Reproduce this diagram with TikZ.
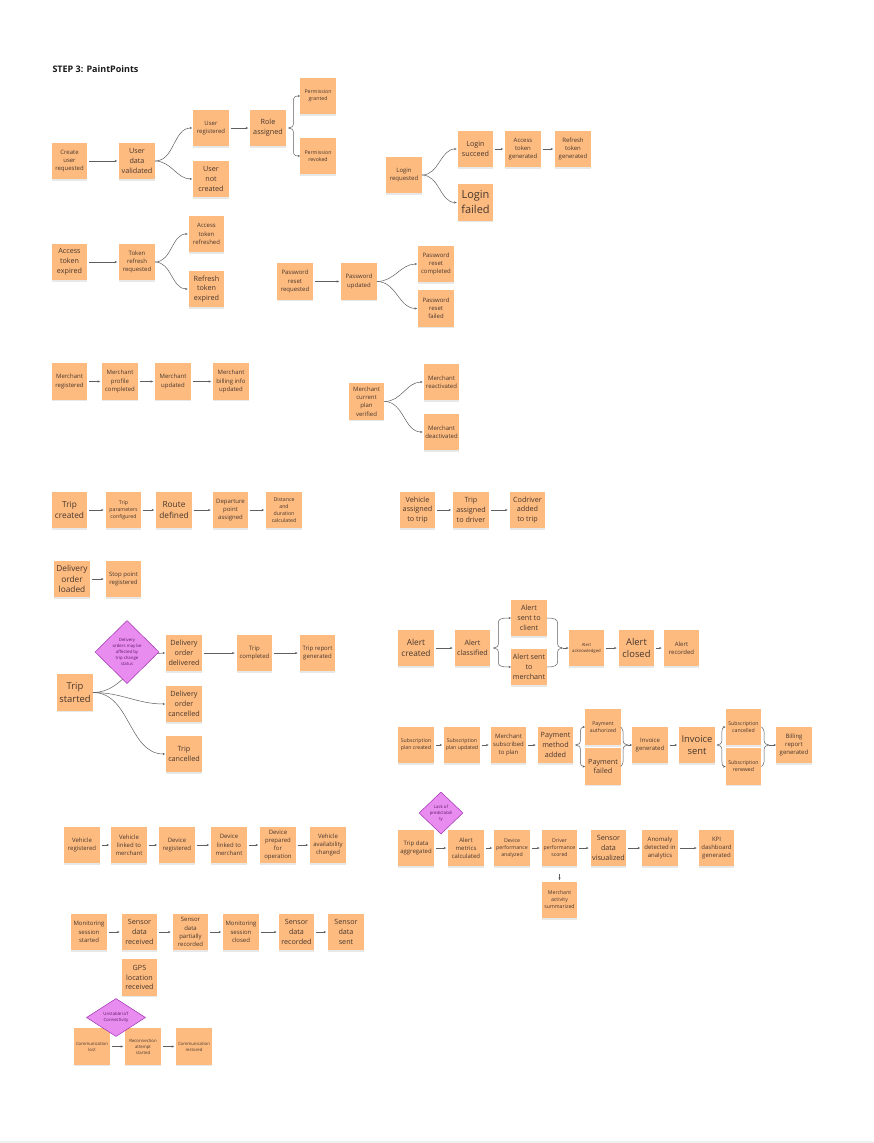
\documentclass[tikz,border=0pt]{standalone}
\usepackage{fontspec}
\setmainfont{Open Sans}
\usetikzlibrary{shapes.geometric,arrows.meta,calc,shadows}
\definecolor{noteor}{RGB}{254,187,128}
\definecolor{notetx}{RGB}{70,55,45}
\definecolor{diafill}{RGB}{233,140,240}
\definecolor{diadraw}{RGB}{160,50,180}
\definecolor{diatx}{RGB}{90,25,100}
\definecolor{lnc}{RGB}{95,95,95}
\tikzset{
 note/.style={fill=noteor, text=notetx, minimum width=35.5pt, minimum height=36.5pt, inner sep=0pt, align=center,
   drop shadow={opacity=0.18, shadow xshift=0pt, shadow yshift=-1.3pt}},
 fA/.style={font=\fontsize{4.3}{6}\selectfont},
 fB/.style={font=\fontsize{5.2}{7}\selectfont},
 fC/.style={font=\fontsize{6}{8.2}\selectfont},
 fD/.style={font=\fontsize{7.2}{9.8}\selectfont},
 fE/.style={font=\fontsize{8.3}{10.8}\selectfont},
 fF/.style={font=\fontsize{9.4}{12.5}\selectfont},
 fG/.style={font=\fontsize{11}{15}\selectfont},
 ln/.style={draw=lnc, line width=0.5pt},
 arr/.style={ln, -{Stealth[length=2.4pt,width=2.2pt]}},
 sarr/.style={arr, shorten <=2pt, shorten >=2pt},
 farr/.style={arr, shorten >=1pt},
 dia/.style={diamond, fill=diafill, draw=diadraw, line width=0.5pt, text=diatx, inner sep=0pt, align=center, fA}
}
\newcommand{\bout}[2]{%
 \draw[arr] let \p1=(#1), \p2=(#2.west), \n1={sign(\y2-\y1)} in
 (\p1) .. controls ({\x1+3pt},{\y1}) and ({\x1+5pt},{\y1+\n1*1.5pt}) .. ({\x1+5pt},{\y1+\n1*5pt})
 -- ({\x1+5pt},{\y2-\n1*5pt}) .. controls ({\x1+5pt},{\y2-\n1*1.5pt}) and ({\x1+6pt},{\y2}) .. (\p2);}
\newcommand{\bin}[2]{%
 \draw[ln] let \p1=(#1.east), \p2=(#2), \n1={sign(\y2-\y1)} in
 (\p1) .. controls ({\x2-8pt},{\y1}) and ({\x2-5pt},{\y1+\n1*1.5pt}) .. ({\x2-5pt},{\y1+\n1*5pt})
 -- ({\x2-5pt},{\y2-\n1*5pt}) .. controls ({\x2-5pt},{\y2-\n1*1.5pt}) and ({\x2-3pt},{\y2}) .. (\p2);}
\begin{document}
\begin{tikzpicture}[x=1pt,y=1pt]
\fill[white] (0,0) rectangle (874,-1143);
\fill[black!6] (0,-1140.5) rectangle (874,-1143);
\path[use as bounding box] (0,0) rectangle (874,-1143);

\node[anchor=west, font=\bfseries\fontsize{9}{11}\selectfont, text=black!90] (title) at (49,-69) {STEP 3: PaintPoints};

% users
\node[note,fC] (cur) at (69.5,-161) {Create\\user\\requested};
\node[note,fD] (udv) at (137,-161) {User\\data\\validated};
\node[note,fC] (ureg) at (211,-128) {User\\registered};
\node[note,fD] (unc) at (211,-179) {User\\not\\created};
\node[note,fD] (role) at (268,-128) {Role\\assigned};
\node[note,fB] (pg) at (318,-96) {Permission\\granted};
\node[note,fB] (pr) at (318,-156) {Permission\\revoked};
\node[note,fD] (ate) at (69.5,-262) {Access\\token\\expired};
\node[note,fC] (trr) at (137,-262) {Token\\refresh\\requested};
\node[note,fC] (atr) at (206.5,-234) {Access\\token\\refreshed};
\node[note,fD] (rte) at (206.5,-289) {Refresh\\token\\expired};
\node[note,fC] (prr) at (295,-281.5) {Password\\reset\\requested};
\node[note,fC] (pu) at (359,-281.5) {Password\\updated};
\node[note,fC] (prc) at (436,-264) {Password\\reset\\completed};
\node[note,fC] (prf) at (436,-308.5) {Password\\reset\\failed};
\node[note,fC] (lr) at (404,-175) {Login\\requested};
\node[note,fD] (ls) at (475.5,-149) {Login\\succeed};
\node[note,fG] (lf) at (475.5,-202.5) {Login\\failed};
\node[note,fC] (atg) at (523,-149) {Access\\token\\generated};
\node[note,fC] (rtg) at (573,-149) {Refresh\\token\\generated};

% merchants
\node[note,fC] (mr) at (69.5,-381.5) {Merchant\\registered};
\node[note,fC] (mpc) at (120,-381.5) {Merchant\\profile\\completed};
\node[note,fC] (mu) at (173,-381.5) {Merchant\\updated};
\node[note,fC] (mbu) at (231,-381.5) {Merchant\\billing info\\updated};
\node[note,fC] (mcpv) at (366.5,-401.5) {Merchant\\current\\plan\\verified};
\node[note,fC] (mra) at (441.5,-382) {Merchant\\reactivated};
\node[note,fC] (mda) at (441.5,-432) {Merchant\\deactivated};

% trips
\node[note,fE] (tc) at (69.5,-510) {Trip\\created};
\node[note,fB] (tpc) at (123.5,-510) {Trip\\parameters\\configured};
\node[note,fE] (rd) at (174,-510) {Route\\defined};
\node[note,fC] (dpa) at (230.5,-510) {Departure\\point\\assigned};
\node[note,fB] (ddc) at (284,-510) {Distance\\and\\duration\\calculated};
\node[note,fD] (vat) at (417.5,-510) {Vehicle\\assigned\\to trip};
\node[note,fD] (tad) at (471,-510) {Trip\\assigned\\to driver};
\node[note,fD] (cat) at (527.5,-510) {Codriver\\added\\to trip};
\node[note,fE] (dol) at (72,-579) {Delivery\\order\\loaded};
\node[note,fC] (spr) at (123.5,-579) {Stop point\\registered};

\node[note,fF] (ts) at (75,-692.5) {Trip\\started};
\node[note,fD] (dod) at (184,-653) {Delivery\\order\\delivered};
\node[note,fC] (tcomp) at (254.5,-653) {Trip\\completed};
\node[note,fC] (trg) at (317.5,-653) {Trip report\\generated};
\node[note,fD] (doc) at (184,-704) {Delivery\\order\\cancelled};
\node[note,fD] (tcan) at (184,-754) {Trip\\cancelled};

% alerts
\node[note,fE] (ac) at (416,-648) {Alert\\created};
\node[note,fD] (acl) at (472.5,-648) {Alert\\classified};
\node[note,fD] (astc) at (529,-618) {Alert\\sent to\\client};
\node[note,fD] (astm) at (529,-667) {Alert sent\\to\\merchant};
\node[note,fA] (aack) at (586.5,-648) {Alert\\acknowledged};
\node[note,fF] (aclo) at (636.5,-648) {Alert\\closed};
\node[note,fC] (arec) at (681.5,-648) {Alert\\recorded};

% subscriptions
\node[note,fB] (spc) at (416,-745) {Subscription\\plan created};
\node[note,fB] (spu) at (462,-745) {Subscription\\plan updated};
\node[note,fC] (msp) at (508.5,-745) {Merchant\\subscribed\\to plan};
\node[note,fD] (pma) at (555.5,-745) {Payment\\method\\added};
\node[note,fB] (pa) at (603,-727) {Payment\\authorized};
\node[note,fD] (pf) at (603,-766.5) {Payment\\failed};
\node[note,fC] (ig) at (650,-745) {Invoice\\generated};
\node[note,fF] (isent) at (697,-745) {Invoice\\sent};
\node[note,fB] (sc) at (743.5,-727) {Subscription\\cancelled};
\node[note,fB] (sr) at (743.5,-766.5) {Subscription\\renewed};
\node[note,fC] (brg) at (794,-745) {Billing\\report\\generated};

% analytics
\node[note,fC] (tda) at (416,-848) {Trip data\\aggregated};
\node[note,fC] (amc) at (466,-848) {Alert\\metrics\\calculated};
\node[note,fB] (dpa2) at (512,-848) {Device\\performance\\analyzed};
\node[note,fB] (dps) at (559.5,-848) {Driver\\performance\\scored};
\node[note,fD] (sdv) at (608.5,-848) {Sensor\\data\\visualized};
\node[note,fC] (adia) at (660,-848) {Anomaly\\detected in\\analytics};
\node[note,fC] (kpi) at (716.5,-848) {KPI\\dashboard\\generated};
\node[note,fB] (mas) at (559.5,-900) {Merchant\\activity\\summarized};

% vehicles
\node[note,fC] (vr) at (82,-845) {Vehicle\\registered};
\node[note,fC] (vlm) at (129,-845) {Vehicle\\linked to\\merchant};
\node[note,fC] (dreg) at (177,-845) {Device\\registered};
\node[note,fC] (dlm) at (229,-845) {Device\\linked to\\merchant};
\node[note,fC] (dpo) at (278,-845) {Device\\prepared\\for\\operation};
\node[note,fC] (vac) at (328,-845) {Vehicle\\availability\\changed};

% monitoring
\node[note,fC] (mss) at (89,-932) {Monitoring\\session\\started};
\node[note,fD] (sdr) at (139.5,-932) {Sensor\\data\\received};
\node[note,fC] (sdpr) at (190.5,-932) {Sensor\\data\\partially\\recorded};
\node[note,fC] (msc) at (241,-932) {Monitoring\\session\\closed};
\node[note,fD] (sdrec) at (296.5,-932) {Sensor\\data\\recorded};
\node[note,fD] (sds) at (346,-932) {Sensor\\data\\sent};
\node[note,fD] (gps) at (139.5,-977.5) {GPS\\location\\received};
\node[note,fA] (cl) at (92,-1046.5) {Communication\\lost};
\node[note,fA] (ras) at (143,-1046.5) {Reconnection\\attempt\\started};
\node[note,fA] (cr) at (194,-1046.5) {Communication\\restored};

% ---------- connectors ----------
\draw[sarr] (cur) -- (udv);
\draw[farr] (udv.east) to[out=0,in=180] (ureg.west);
\draw[farr] (udv.east) to[out=0,in=180] (unc.west);
\draw[sarr] (ureg) -- (role);
\coordinate (roletip) at ($(role.east)+(2.5,0)$);
\bout{roletip}{pg}
\bout{roletip}{pr}
\draw[sarr] (ate) -- (trr);
\draw[farr] (trr.east) to[out=0,in=180] (atr.west);
\draw[farr] (trr.east) to[out=0,in=180] (rte.west);
\draw[sarr] (prr) -- (pu);
\draw[farr] (pu.east) to[out=0,in=180] (prc.west);
\draw[farr] (pu.east) to[out=0,in=180] (prf.west);
\draw[farr] (lr.east) to[out=0,in=180] (ls.west);
\draw[farr] (lr.east) to[out=0,in=180] (lf.west);
\draw[sarr] (ls) -- (atg);
\draw[sarr] (atg) -- (rtg);

\draw[sarr] (mr) -- (mpc);
\draw[sarr] (mpc) -- (mu);
\draw[sarr] (mu) -- (mbu);
\draw[farr] (mcpv.east) to[out=0,in=180] (mra.west);
\draw[farr] (mcpv.east) to[out=0,in=180] (mda.west);

\draw[sarr] (tc) -- (tpc);
\draw[sarr] (tpc) -- (rd);
\draw[sarr] (rd) -- (dpa);
\draw[sarr] (dpa) -- (ddc);
\draw[sarr] (vat) -- (tad);
\draw[sarr] (tad) -- (cat);
\draw[sarr] (dol) -- (spr);

\draw[farr] (ts.east) to[out=0,in=180] (dod.west);
\draw[farr] (ts.east) to[out=0,in=180] (doc.west);
\draw[farr] (ts.east) to[out=0,in=180] (tcan.west);
\draw[sarr] (dod) -- (tcomp);
\draw[sarr] (tcomp) -- (trg);

\draw[sarr] (ac) -- (acl);
\coordinate (acltip) at ($(acl.east)+(3,0)$);
\bout{acltip}{astc}
\bout{acltip}{astm}
\coordinate (acktip) at ($(aack.west)+(-6,0)$);
\bin{astc}{acktip}
\bin{astm}{acktip}
\draw[arr] (acktip) -- (aack.west);
\draw[sarr] (aack) -- (aclo);
\draw[sarr] (aclo) -- (arec);

\draw[sarr] (spc) -- (spu);
\draw[sarr] (spu) -- (msp);
\draw[sarr] (msp) -- (pma);
\coordinate (pmatip) at ($(pma.east)+(2,0)$);
\bout{pmatip}{pa}
\bout{pmatip}{pf}
\coordinate (igtip) at ($(ig.west)+(-4,0)$);
\bin{pa}{igtip}
\bin{pf}{igtip}
\draw[arr] (igtip) -- (ig.west);
\draw[sarr] (ig) -- (isent);
\coordinate (istip) at ($(isent.east)+(2,0)$);
\bout{istip}{sc}
\bout{istip}{sr}
\coordinate (brgtip) at ($(brg.west)+(-7,0)$);
\bin{sc}{brgtip}
\bin{sr}{brgtip}
\draw[arr] (brgtip) -- (brg.west);

\draw[sarr] (tda) -- (amc);
\draw[sarr] (amc) -- (dpa2);
\draw[sarr] (dpa2) -- (dps);
\draw[sarr] (dps) -- (sdv);
\draw[sarr] (sdv) -- (adia);
\draw[sarr] (adia) -- (kpi);
\draw[arr, shorten <=8pt, shorten >=1.5pt] (dps.south) -- (mas.north);

\draw[sarr] (vr) -- (vlm);
\draw[sarr] (vlm) -- (dreg);
\draw[sarr] (dreg) -- (dlm);
\draw[sarr] (dlm) -- (dpo);
\draw[sarr] (dpo) -- (vac);

\draw[sarr] (mss) -- (sdr);
\draw[sarr] (sdr) -- (sdpr);
\draw[sarr] (sdpr) -- (msc);
\draw[sarr] (msc) -- (sdrec);
\draw[sarr] (sdrec) -- (sds);
\draw[sarr] (cl) -- (ras);
\draw[sarr] (ras) -- (cr);

% ---------- decision diamonds ----------
\node[dia, minimum width=64pt, minimum height=63pt] (dia1) at (127,-652) {Delivery\\orders may be\\affected by\\trip change\\status};
\node[dia, minimum width=44pt, minimum height=42pt] (dia2) at (441,-813) {Lack of\\predictabili\\ty};
\node[dia, aspect=1.55, minimum width=59pt, minimum height=38pt] (dia3) at (116,-1017.5) {Unstable IoT\\Connectivity};
\end{tikzpicture}
\end{document}
